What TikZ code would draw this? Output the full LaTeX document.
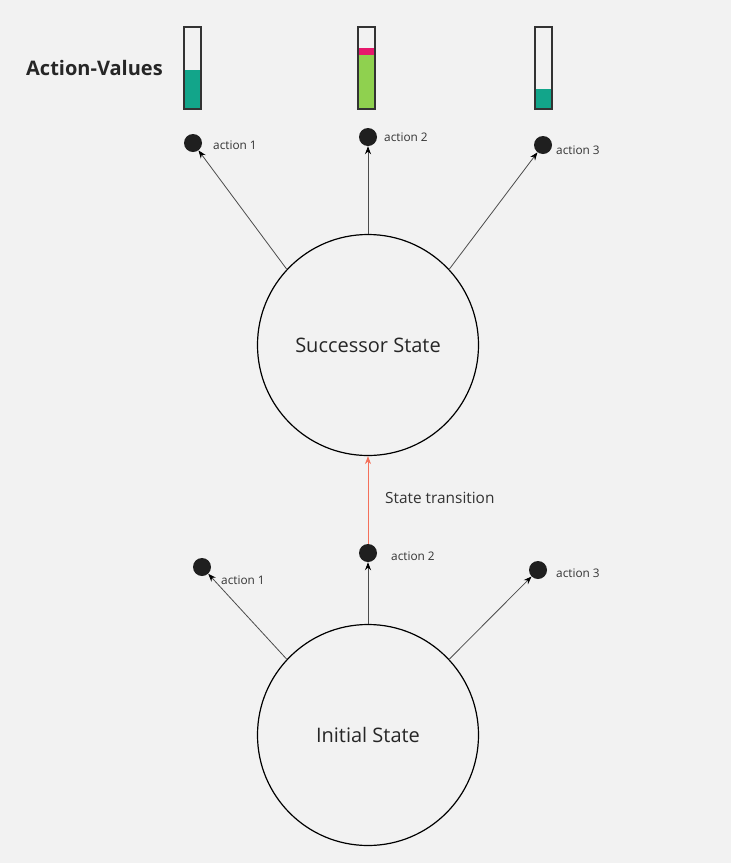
\documentclass[tikz,border=0pt]{standalone}
\usepackage{fontspec}
\setmainfont{Open Sans}
\usetikzlibrary{arrows.meta}
\definecolor{bg}{HTML}{F2F2F2}
\definecolor{teal}{HTML}{12A58A}
\definecolor{leaf}{HTML}{8FD14F}
\definecolor{rose}{HTML}{E6186C}
\definecolor{trans}{HTML}{F4705A}
\tikzset{
  state/.style={draw=black,line width=1.2pt,circle,minimum size=221pt,inner sep=0pt,
    font=\fontsize{20}{24}\selectfont,text=black!85},
  dot/.style={circle,fill=black!88,minimum size=18pt,inner sep=0pt},
  actlbl/.style={font=\fontsize{11.8}{14}\selectfont,text=black!80,inner sep=0pt,anchor=west},
  act/.style={draw=black!70,line width=0.8pt,-{Stealth[length=8pt,width=6pt,color=black]}},
  bar/.style={draw=black!80,line width=1.2pt}
}
\begin{document}
\begin{tikzpicture}[x=1pt,y=-1pt]
        \fill[bg] (0,0) rectangle (731,863);
        \useasboundingbox (0,0) rectangle (731,863);
        % states
        \node[state] (succ) at (368,345) {Successor State};
        \node[state] (init) at (368,735) {Initial State};
        % actions of the successor state
        \node[dot] (s1) at (193,143) {};
        \node[dot] (s2) at (368,137) {};
        \node[dot] (s3) at (543,145) {};
        \node[actlbl] at (213,145) {action 1};
        \node[actlbl] at (384,137) {action 2};
        \node[actlbl] at (556,150) {action 3};
        % actions of the initial state
        \node[dot] (i1) at (202,567) {};
        \node[dot] (i2) at (368,553) {};
        \node[dot] (i3) at (538,570) {};
        \node[actlbl] at (221,580) {action 1};
        \node[actlbl] at (391,556) {action 2};
        \node[actlbl] at (556,573) {action 3};
        \foreach \a/\ang in {1/137,2/90,3/43} {
          \draw[act] (succ.\ang) -- (s\a);
          \draw[act] (init.\ang) -- (i\a);
        }
        \draw[draw=trans,line width=0.9pt,-{Stealth[length=8pt,width=6pt]}] (i2) -- (succ);
        \node[font=\fontsize{15.4}{18}\selectfont,text=black!80,anchor=west,inner sep=0pt] at (385,498) {State transition};
        % action-values
        \node[font=\bfseries\fontsize{20}{24}\selectfont,text=black!85,anchor=west,inner sep=0pt] at (26,68) {Action-Values};
        \fill[teal] (184,70) rectangle (201,109);
        \fill[leaf] (358,55) rectangle (375,109);
        \fill[rose] (358,48) rectangle (375,55);
        \fill[teal] (535,89) rectangle (552,109);
        \draw[bar] (184,27) rectangle (201,109);
        \draw[bar] (358,27) rectangle (375,109);
        \draw[bar] (535,27) rectangle (552,109);
\end{tikzpicture}
\end{document}
